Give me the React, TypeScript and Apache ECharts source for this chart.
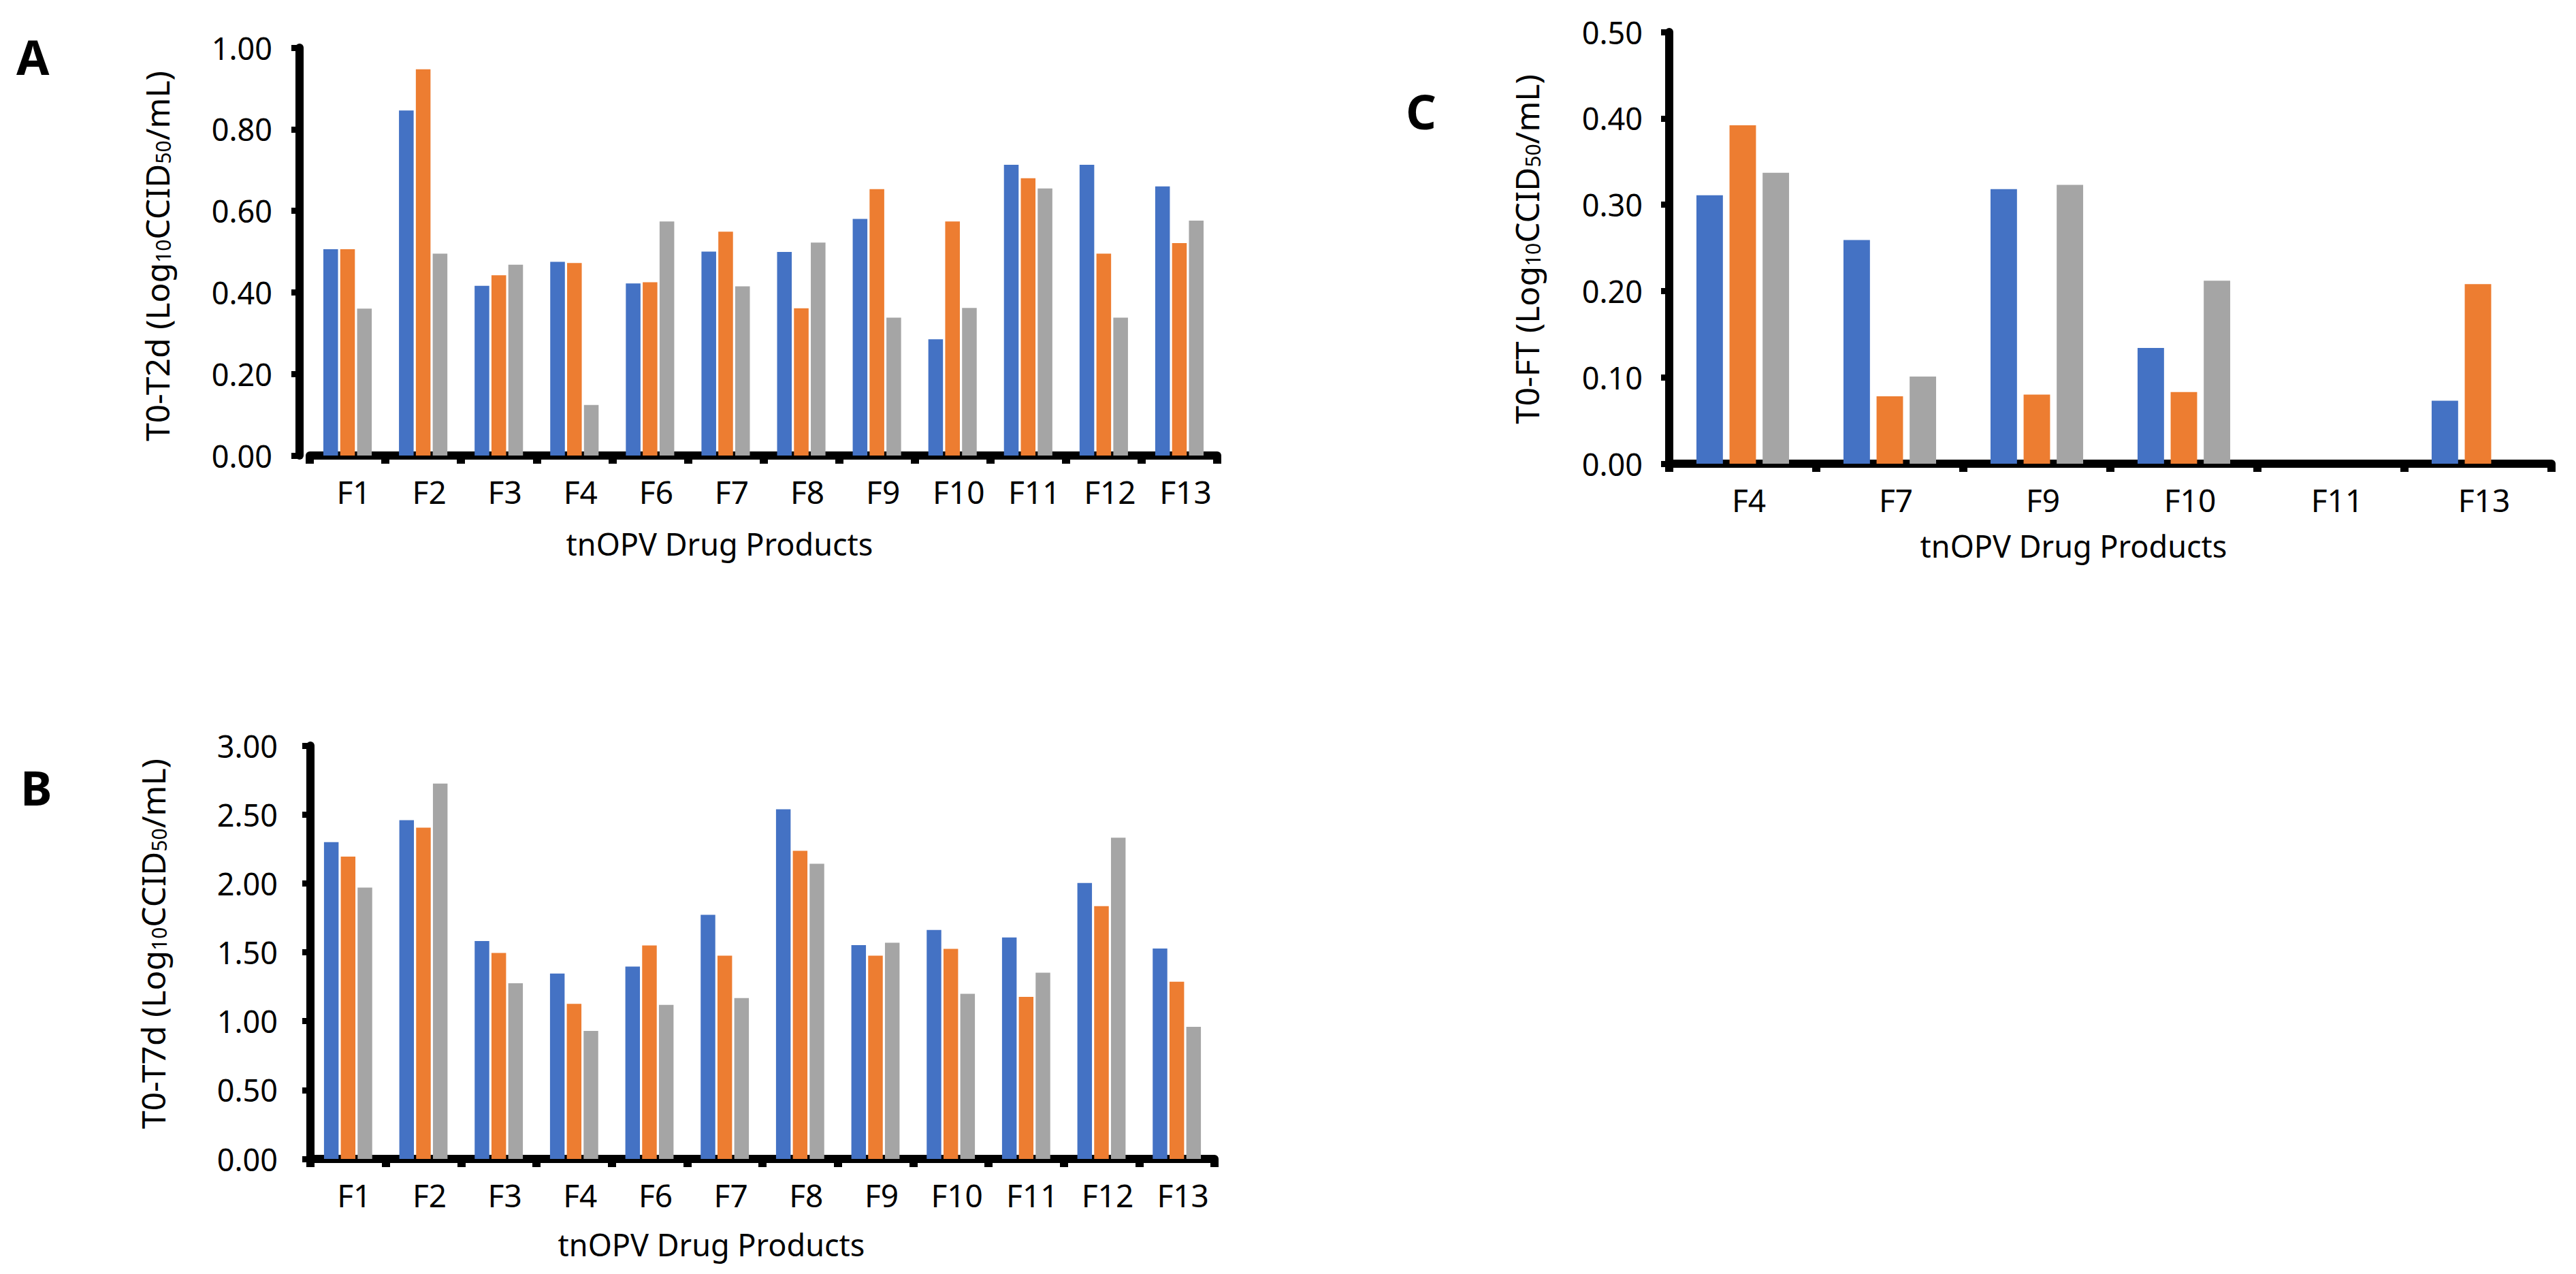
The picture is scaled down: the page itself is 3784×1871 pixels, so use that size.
import React, { useEffect, useRef } from "react";
import * as echarts from "echarts";

const catsAB = ["F1", "F2", "F3", "F4", "F6", "F7", "F8", "F9", "F10", "F11", "F12", "F13"];
const catsC = ["F4", "F7", "F9", "F10", "F11", "F13"];

const aBlue = [0.506, 0.846, 0.416, 0.475, 0.422, 0.5, 0.499, 0.58, 0.285, 0.713, 0.713, 0.66];
const aOrange = [0.506, 0.947, 0.442, 0.472, 0.425, 0.549, 0.361, 0.653, 0.574, 0.68, 0.495, 0.521];
const aGray = [0.36, 0.495, 0.468, 0.124, 0.574, 0.415, 0.522, 0.338, 0.362, 0.655, 0.338, 0.576];

const bBlue = [2.3, 2.459, 1.582, 1.346, 1.396, 1.772, 2.538, 1.552, 1.662, 1.607, 2.003, 1.527];
const bOrange = [2.195, 2.404, 1.495, 1.126, 1.549, 1.475, 2.236, 1.475, 1.525, 1.176, 1.835, 1.286];
const bGray = [1.97, 2.725, 1.275, 0.929, 1.118, 1.168, 2.143, 1.569, 1.198, 1.352, 2.332, 0.959];

const cBlue = [0.311, 0.259, 0.318, 0.134, null, 0.073];
const cOrange = [0.392, 0.078, 0.08, 0.083, null, 0.208];
const cGray = [0.337, 0.101, 0.323, 0.212, null, null];

const yTicksA = { max: 1, interval: 0.2 };
const yTicksB = { max: 3, interval: 0.5 };
const yTicksC = { max: 0.5, interval: 0.1 };

const COLORS = ["#4472C4", "#ED7D31", "#A5A5A5"];
const FONT = "Noto Sans";

function xAxisOf(gridIndex: number, data: string[]) {
  return {
    type: "category",
    gridIndex,
    data,
    axisLine: { show: true, lineStyle: { color: "#000", width: 12 } },
    axisTick: { show: true, length: 12, lineStyle: { color: "#000", width: 12 } },
    axisLabel: {
      color: "#000",
      fontFamily: FONT,
      fontSize: 46,
      margin: 30,
      padding: [0, 0, 0, 18],
    },
    splitLine: { show: false },
  };
}

function yAxisOf(gridIndex: number, t: { max: number; interval: number }, offset: number, margin: number, pad: number) {
  return {
    type: "value",
    gridIndex,
    min: 0,
    max: t.max,
    interval: t.interval,
    offset,
    axisLine: { show: true, lineStyle: { color: "#000", width: 12 } },
    axisTick: { show: true, length: 12, lineStyle: { color: "#000", width: 9 } },
    splitLine: { show: false },
    axisLabel: {
      color: "#000",
      fontFamily: FONT,
      fontSize: 45,
      margin,
      padding: [pad, 0, 0, 0],
      formatter: (v: number) => v.toFixed(2),
    },
  };
}

function barsOf(idx: number, lists: (number | null)[][], catGap: string, gap: string) {
  return lists.map((d, i) => ({
    type: "bar",
    xAxisIndex: idx,
    yAxisIndex: idx,
    data: d,
    barCategoryGap: catGap,
    barGap: gap,
    itemStyle: { color: COLORS[i] },
    silent: true,
  }));
}

function yTitle(x: number, y: number, head: string) {
  return {
    type: "text",
    x,
    y,
    rotation: Math.PI / 2,
    style: {
      text: `{m|${head} (Log}{s|10}{m|CCID}{s|50}{m|/mL)}`,
      align: "center",
      verticalAlign: "middle",
      rich: {
        m: { fontFamily: FONT, fontSize: 48, fill: "#000", verticalAlign: "bottom" },
        s: { fontFamily: FONT, fontSize: 30, fill: "#000", verticalAlign: "bottom" },
      },
    },
  };
}

function xTitle(x: number, y: number) {
  return {
    type: "text",
    x,
    y,
    style: {
      text: "tnOPV Drug Products",
      fontFamily: FONT,
      fontSize: 45,
      fill: "#000",
      align: "center",
      verticalAlign: "middle",
    },
  };
}

function letter(x: number, y: number, t: string) {
  return {
    type: "text",
    x,
    y,
    style: {
      text: t,
      fontFamily: FONT,
      fontWeight: "bold",
      fontSize: 70,
      fill: "#000",
      align: "left",
      verticalAlign: "middle",
    },
  };
}

export default function App() {
  const ref = useRef<HTMLDivElement>(null);
  useEffect(() => {
    if (!ref.current) return;
    const chart = echarts.init(ref.current, undefined, { renderer: "svg" });
    chart.setOption({
      animation: false,
      backgroundColor: "#fff",
      grid: [
        { left: 455, top: 70, width: 1333, height: 599 },
        { left: 456, top: 1095, width: 1328, height: 607 },
        { left: 2452, top: 47, width: 1296, height: 634 },
      ],
      xAxis: [xAxisOf(0, catsAB), xAxisOf(1, catsAB), xAxisOf(2, catsC)],
      yAxis: [
        yAxisOf(0, yTicksA, 15, 40, 12),
        yAxisOf(1, yTicksB, 0, 48, 22),
        yAxisOf(2, yTicksC, 0, 39, 12),
      ],
      series: [
        ...barsOf(0, [aBlue, aOrange, aGray], "36%", "15%"),
        ...barsOf(1, [bBlue, bOrange, bGray], "36%", "15%"),
        ...barsOf(2, [cBlue, cOrange, cGray], "37%", "25%"),
      ],
      graphic: [
        letter(24, 83, "A"),
        letter(30, 1156, "B"),
        letter(2065, 163, "C"),
        yTitle(230, 376, "T0-T2d"),
        yTitle(224, 1386, "T0-T7d"),
        yTitle(2242, 366, "T0-FT"),
        xTitle(1057, 798),
        xTitle(1045, 1827),
        xTitle(3046, 801),
      ],
    });
    return () => chart.dispose();
  }, []);
  return (
    <div
      ref={ref}
      style={{ position: "fixed", left: 0, top: 0, width: "3784px", height: "1871px", background: "#fff" }}
    />
  );
}
